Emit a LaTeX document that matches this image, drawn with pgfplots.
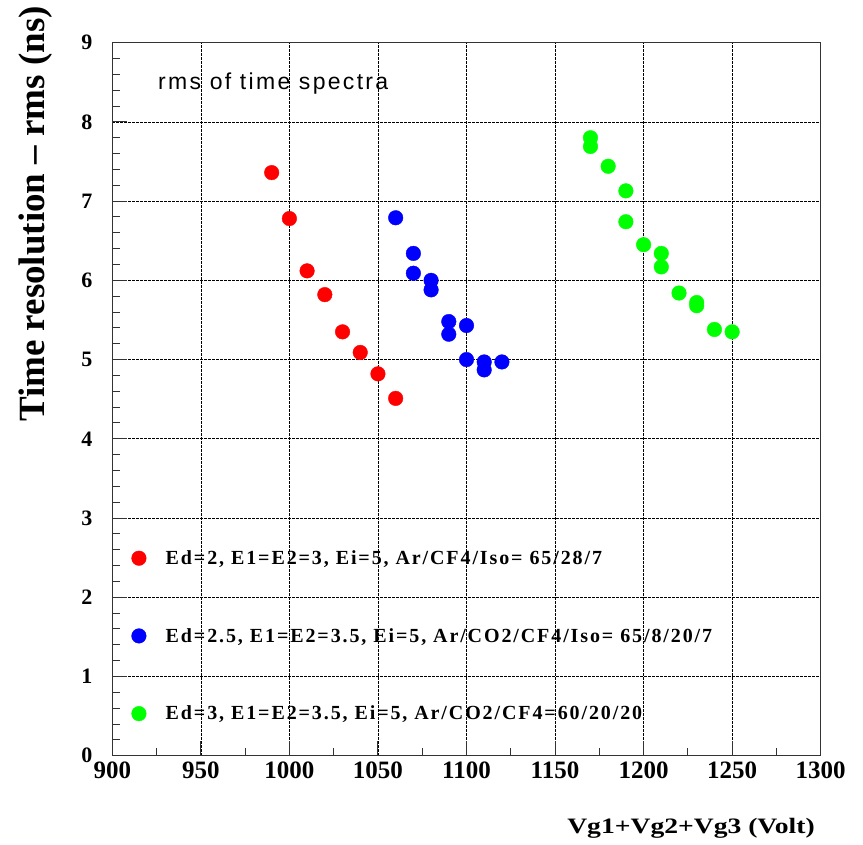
\documentclass[border=0pt]{standalone}
\usepackage{pgfplots}
\pgfplotsset{compat=1.18}
\usepackage{fontspec}
\setmainfont{Liberation Serif}
\newfontfamily\legfont{Liberation Serif}[LetterSpace=9.5]
\newfontfamily\sansls{Liberation Sans}[LetterSpace=10]
\begin{document}
\begin{tikzpicture}[x=1pt,y=1pt]
\begin{axis}[
  at={(112.3pt,89.3pt)}, anchor=south west,
  scale only axis, width=708.4pt, height=713pt,
  xmin=900, xmax=1300, ymin=0, ymax=9,
  xtick={900,950,...,1300}, ytick={0,1,...,9},
  minor x tick num=1, minor y tick num=4,
  tick align=inside, xtick pos=bottom, ytick pos=left,
  major tick length=14.5pt, minor tick length=7.5pt,
  every tick/.style={black!80, line width=1pt},
  grid=major,
  major grid style={black, line width=0.7pt, dash pattern=on 2.5pt off 1.5pt},
  axis line style={black!80, line width=1.3pt},
  /pgf/number format/assume math mode=true,
  /pgf/number format/1000 sep={},
  xticklabel style={font=\fontsize{25}{25}\selectfont\bfseries, yshift=-3pt},
  yticklabel style={font=\fontsize{22}{22}\selectfont\bfseries, xshift=-16.5pt},
  every axis x label/.style={at={(rel axis cs:0.642,-0.1098)}, anchor=base west, inner sep=0pt, font=\fontsize{22}{22}\selectfont\bfseries},
  every axis y label/.style={at={(rel axis cs:-0.095,0.7597)}, rotate=90, anchor=base, inner sep=0pt, font=\fontsize{37}{37}\selectfont\bfseries},
  xlabel={\scalebox{1.255}[1]{Vg1+Vg2+Vg3 (Volt)}},
  ylabel={Time resolution – rms (ns)},
  legend style={at={(axis cs:910.8,2.593)}, anchor=north west, draw=none, fill=none,
    inner sep=0pt, row sep=62.2pt, font=\legfont\bfseries\fontsize{20}{20}\selectfont,
    nodes={inner sep=0pt},
    /tikz/every odd column/.append style={column sep=19.5pt},
    /tikz/every even column/.append style={text height=14pt, text depth=3pt}},
  legend cell align=left,
  legend image code/.code={\draw[#1] plot coordinates {(0pt,0pt)};},
]
\addplot[only marks, mark=*, mark size=7.3pt, color=red] coordinates {
(990,7.36) (1000,6.78) (1010,6.12) (1020,5.82) (1030,5.35) (1040,5.09) (1050,4.82) (1060,4.51)
};
\addlegendentry{Ed=2, E1=E2=3, Ei=5, Ar/CF4/Iso= 65/28/7}
\addplot[only marks, mark=*, mark size=7.3pt, color=blue] coordinates {
(1060,6.79) (1070,6.34) (1070,6.09) (1080,6.00) (1080,5.88) (1090,5.48) (1090,5.32)
(1100,5.43) (1100,5.00) (1110,4.97) (1110,4.87) (1120,4.97)
};
\addlegendentry{Ed=2.5, E1=E2=3.5, Ei=5, Ar/CO2/CF4/Iso= 65/8/20/7}
\addplot[only marks, mark=*, mark size=7.3pt, color=green] coordinates {
(1170,7.80) (1170,7.69) (1180,7.44) (1190,7.13) (1190,6.74) (1200,6.45) (1210,6.34) (1210,6.17)
(1220,5.84) (1230,5.72) (1230,5.68) (1240,5.38) (1250,5.35)
};
\addlegendentry{Ed=3, E1=E2=3.5, Ei=5, Ar/CO2/CF4=60/20/20}
\node[anchor=base west, inner sep=0pt, font=\sansls\fontsize{23}{23}\selectfont] at (rel axis cs:0.0645,0.9346) {rms of time spectra};
\end{axis}
\pgfresetboundingbox
\path[use as bounding box] (0,0) rectangle (863,845);
\end{tikzpicture}
\end{document}
